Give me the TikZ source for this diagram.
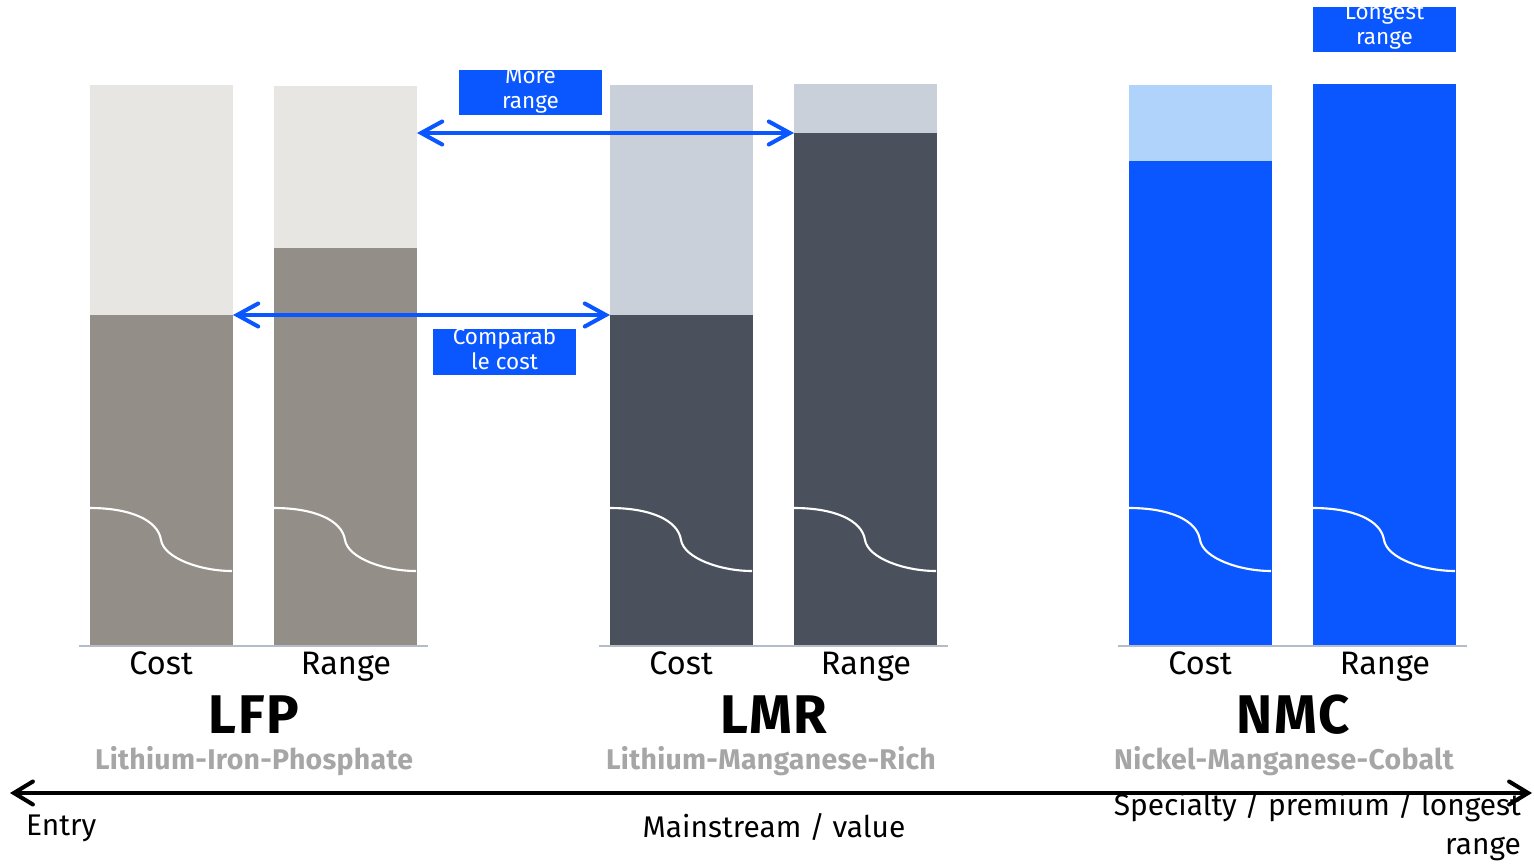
\documentclass[tikz,border=0pt]{standalone}
\usepackage{fontspec}
\setmainfont{Fira Sans}
\usetikzlibrary{arrows.meta}
\definecolor{lfplight}{HTML}{E8E6E2}
\definecolor{lfpdark}{HTML}{938E87}
\definecolor{lmrlight}{HTML}{C9D0D9}
\definecolor{lmrdark}{HTML}{4A505C}
\definecolor{nmcblue}{HTML}{0A57FF}
\definecolor{nmclight}{HTML}{B0D3FC}
\definecolor{baseln}{HTML}{B4BCC8}
\definecolor{subgray}{HTML}{A6A6A6}
\begin{document}
\begin{tikzpicture}[x=0.02cm,y=-0.02cm,
  seg/.style={rectangle, inner sep=0pt, outer sep=0pt, anchor=north west, minimum width=2.86cm},
  wave/.style={draw=white, line width=1.2pt},
  baseline/.style={draw=baseln, line width=1.3pt},
  catlbl/.style={anchor=base, font=\fontsize{18.5}{22}\selectfont, text=black},
  chem/.style={anchor=base, font=\fontsize{31}{34}\bfseries\addfontfeatures{LetterSpace=3}\selectfont, text=black},
  chemsub/.style={anchor=base, font=\fontsize{16.2}{18}\bfseries\addfontfeatures{LetterSpace=1}\selectfont, text=subgray},
  tag/.style={rectangle, fill=nmcblue, text=white, minimum width=2.86cm, minimum height=2.4cm, inner sep=0pt, align=center, font=\fontsize{12.8}{14.2}\selectfont},
  cmp/.style={draw=nmcblue, line width=2.3pt, {Straight Barb[length=0.42cm,width=0.46cm,line cap=round]}-{Straight Barb[length=0.42cm,width=0.46cm,line cap=round]}},
  axis/.style={draw=black, line width=2.3pt, {Straight Barb[length=0.38cm,width=0.46cm,line cap=round]}-{Straight Barb[length=0.38cm,width=0.46cm,line cap=round]}},
  axlbl/.style={font=\fontsize{17}{22.5}\selectfont, text=black}
]
\useasboundingbox[fill=white] (0,0) rectangle (1534,864);

% LFP bars
\node[seg, fill=lfplight, minimum height=4.6cm] (lfpct) at (90,85) {};
\node[seg, fill=lfpdark, minimum height=6.6cm] (lfpcb) at (90,315) {};
\node[seg, fill=lfplight, minimum height=3.24cm] (lfprt) at (274,86) {};
\node[seg, fill=lfpdark, minimum height=7.94cm] (lfprb) at (274,248) {};
% LMR bars
\node[seg, fill=lmrlight, minimum height=4.6cm] (lmrct) at (610,85) {};
\node[seg, fill=lmrdark, minimum height=6.6cm] (lmrcb) at (610,315) {};
\node[seg, fill=lmrlight, minimum height=0.98cm] (lmrrt) at (794,84) {};
\node[seg, fill=lmrdark, minimum height=10.24cm] (lmrrb) at (794,133) {};
% NMC bars
\node[seg, fill=nmclight, minimum height=1.52cm] (nmcct) at (1129,85) {};
\node[seg, fill=nmcblue, minimum height=9.68cm] (nmccb) at (1129,161) {};
\node[seg, fill=nmcblue, minimum height=11.22cm] (nmcr) at (1313,84) {};

% waves
\foreach \x in {90,274,610,794,1129,1313}
  \draw[wave] (\x,508) .. controls (\x+40,508) and (\x+68,520) .. (\x+71,540)
              .. controls (\x+74,558) and (\x+110,571) .. (\x+142,571);

% baselines
\draw[baseline] (79,646) -- (428,646);
\draw[baseline] (599,646) -- (948,646);
\draw[baseline] (1118,646) -- (1467,646);

% bar labels
\node[catlbl] (lfpc) at (161,674) {Cost};
\node[catlbl] (lfpr) at (346,674) {Range};
\node[catlbl] (lmrc) at (681,674) {Cost};
\node[catlbl] (lmrr) at (866,674) {Range};
\node[catlbl] (nmcc) at (1200,674) {Cost};
\node[catlbl] (nmcrl) at (1385,674) {Range};

\node[chem] (lfp) at (254,733) {LFP};
\node[chem] (lmr) at (774,733) {LMR};
\node[chem] (nmc) at (1293,733) {NMC};
\node[chemsub] (lfps) at (254,769) {Lithium-Iron-Phosphate};
\node[chemsub] (lmrs) at (771,769) {Lithium-Manganese-Rich};
\node[chemsub] (nmcs) at (1284,769) {Nickel-Manganese-Cobalt};

% comparison arrows
\draw[cmp] (lfprt.east |- lmrrb.north west) -- (lmrrb.north west);
\draw[cmp] (lfpcb.north east) -- (lmrcb.north west);

% tags
\begin{scope}
  \clip (459,71) rectangle (602,115);
  \node[tag] (moretag) at (530.5,91) {More\\range};
\end{scope}
\begin{scope}
  \clip (433,330) rectangle (576,375);
  \node[tag] (cmptag) at (504.5,349) {Comparab\\le cost};
\end{scope}
\begin{scope}
  \clip (1313,8) rectangle (1456,52);
  \node[tag] (longtag) at (1384.5,27) {Longest\\range};
\end{scope}

% axis
\coordinate (axl) at (10,793);
\coordinate (axr) at (1532,793);
\draw[axis] (axl) -- (axr);
\node[axlbl, anchor=west] (entry) at (20,828) {Entry};
\node[axlbl] (main) at (774,827) {Mainstream / value};
\node[axlbl, anchor=east, align=right] (spec) at (1527,826) {Specialty / premium / longest\\range};
\end{tikzpicture}
\end{document}
